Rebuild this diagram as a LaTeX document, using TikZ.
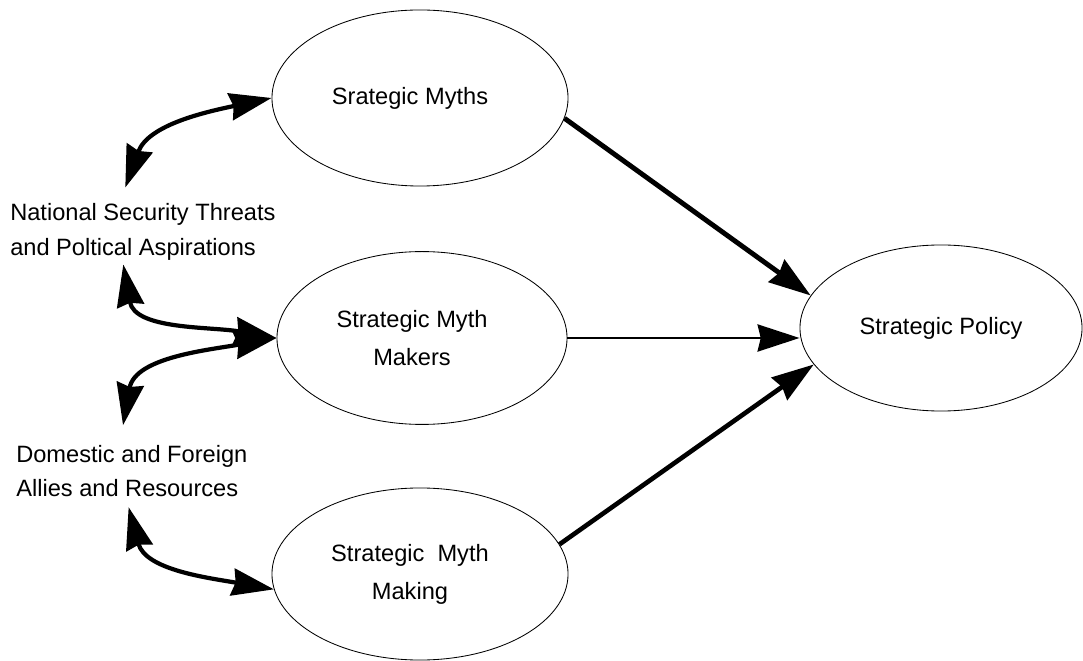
\documentclass[tikz,border=0pt]{standalone}
\usepackage{fontspec}
\setmainfont{Liberation Sans}
\usetikzlibrary{shapes.geometric , arrows.meta}

\begin{document}
\begin{tikzpicture}[x = 0.025cm , y = -0.025cm ,
    >={Stealth[length = 1.05cm , width = 0.68cm , inset = 0.08cm]} ,
    myth/.style = {draw , ellipse , line width = 0.6pt , inner sep = 0pt , align = center ,
        font = \fontsize{16.8}{27}\selectfont} ,
    sidetext/.style = {inner sep = 0pt , anchor = west , align = left ,
        font = \fontsize{16.8}{24.5}\selectfont} ,
    link/.style = {line width = 3pt , <->}]
    \useasboundingbox (0,0) rectangle (1083,661);

    % ellipses
    \node[myth , minimum width = 7.4cm , minimum height = 4.4cm] (myths) at (420,98) {Srategic Myths\hspace*{0.5cm}};
    \node[myth , minimum width = 7.25cm , minimum height = 4.32cm] (makers) at (422,338) {Strategic Myth\hspace*{0.5cm}\\Makers\hspace*{0.5cm}};
    \node[myth , minimum width = 7.4cm , minimum height = 4.3cm] (making) at (420,574) {Strategic\ \ Myth\hspace*{0.5cm}\\Making\hspace*{0.5cm}};
    \node[myth , minimum width = 7.05cm , minimum height = 4.15cm] (policy) at (941,328) {Strategic Policy};

    % side texts
    \node[sidetext] (threats) at (10,232) {National Security Threats\\and Poltical Aspirations};
    \node[sidetext] (allies) at (16,471) {Domestic and Foreign\\Allies and Resources};

    % arrows to policy
    \draw[line width = 3.5pt , ->] (myths.-8) -- (policy.166);
    \draw[line width = 1.6pt , ->] (makers.east) -- (policy.west |- makers.east);
    \draw[line width = 3.3pt , ->] (making.12) -- (policy.196);

    % curved links
    \draw[link] (myths.west) to[out = 192 , in = 70] ([xshift = -0.44cm , yshift = 0.4cm]threats.north);
    \draw[link] ([xshift = -0.49cm , yshift = -0.1cm]threats.south) to[out = -80 , in = 170] (makers.west);
    \draw[link] (makers.west) to[out = 190 , in = 80] ([xshift = -0.22cm , yshift = 0.49cm]allies.north);
    \draw[link] ([xshift = -0.08cm , yshift = -0.25cm]allies.south) to[out = -75 , in = 170] (making.186);
\end{tikzpicture}
\end{document}
